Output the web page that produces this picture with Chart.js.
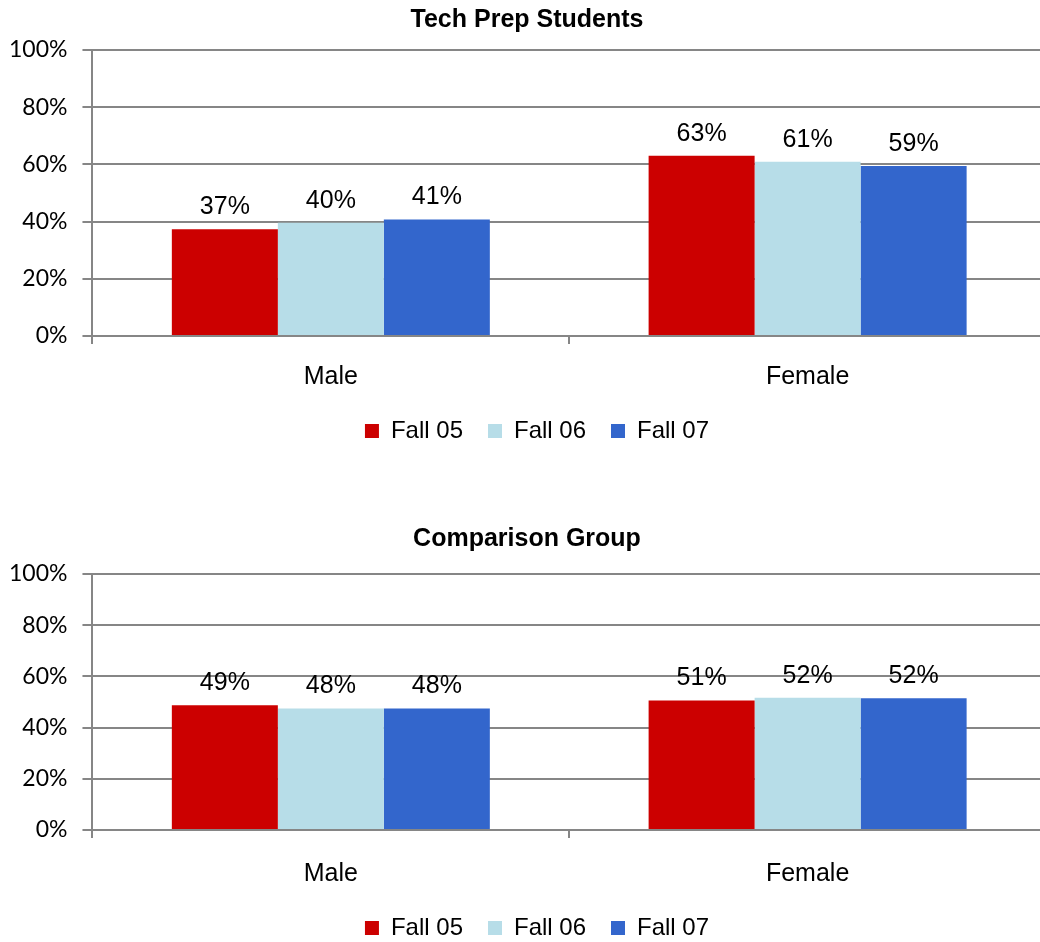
<!DOCTYPE html>
<html>
<head>
<meta charset="utf-8">
<script src="https://cdn.jsdelivr.net/npm/chart.js@4.4.1/dist/chart.umd.min.js"></script>
<style>
  html, body { margin: 0; padding: 0; background: #fff; overflow: hidden; }
  #topChart { position: absolute; left: 0; top: 0; }
  #bottomChart { position: absolute; left: 0; top: 519px; }
</style>
</head>
<body>
<canvas id="topChart" width="1046" height="453"></canvas>
<canvas id="bottomChart" width="1046" height="431"></canvas>
<script>
// Categories, series and axis ticks
const categories = ['Male', 'Female'];
const seriesNames = ['Fall 05', 'Fall 06', 'Fall 07'];
const seriesColors = ['#CC0000', '#B7DDE8', '#3366CC'];
const yTicks = [0, 20, 40, 60, 80, 100];

// Tech Prep Students (percent)
const techFall05 = [37.3, 63.0];
const techFall06 = [39.6, 60.9];
const techFall07 = [40.7, 59.4];

// Comparison Group (percent)
const compFall05 = [48.7, 50.6];
const compFall06 = [47.5, 51.7];
const compFall07 = [47.5, 51.5];

Chart.defaults.color = '#000';
Chart.defaults.font.family = '"Liberation Sans", Arial, sans-serif';
Chart.defaults.animation = false;

const gridGray = '#868686';

// Draw the value above each bar
const valueLabels = {
    id: 'valueLabels',
    afterDatasetsDraw(chart) {
        const ctx = chart.ctx;
        ctx.save();
        ctx.font = '25px "Liberation Sans", Arial, sans-serif';
        ctx.fillStyle = '#000';
        ctx.textAlign = 'center';
        ctx.textBaseline = 'middle';
        chart.data.datasets.forEach((ds, i) => {
            chart.getDatasetMeta(i).data.forEach((bar, j) => {
                ctx.fillText(Math.round(ds.data[j]) + '%', bar.x, bar.y - 22);
            });
        });
        ctx.restore();
    }
};

// Nudge the legend a little to the right, like the original
const legendNudge = {
    id: 'legendNudge',
    afterLayout(chart) {
        chart.legend.left += 10;
        chart.legend.right += 10;
    }
};

function makeChart(id, title, series, titleBottom, xPad, xTrim) {
    return new Chart(document.getElementById(id), {
        type: 'bar',
        data: {
            labels: categories,
            datasets: series.map((values, i) => ({
                label: seriesNames[i],
                data: values,
                backgroundColor: seriesColors[i],
                borderWidth: 0,
                categoryPercentage: 0.667,
                barPercentage: 1.0
            }))
        },
        options: {
            responsive: false,
            layout: {
                padding: { left: 8, right: 0, top: 0, bottom: 0 }
            },
            plugins: {
                title: {
                    display: true,
                    text: title,
                    font: { size: 25, weight: 'bold' },
                    padding: { top: 5, bottom: titleBottom }
                },
                legend: {
                    position: 'bottom',
                    labels: {
                        boxWidth: 14,
                        boxHeight: 14,
                        padding: 25,
                        font: { size: 24 }
                    }
                },
                tooltip: { enabled: false }
            },
            scales: {
                x: {
                    grid: {
                        display: true,
                        drawOnChartArea: false,
                        drawTicks: true,
                        tickLength: 8,
                        color: gridGray,
                        lineWidth: 2
                    },
                    border: { display: true, color: gridGray, width: 2 },
                    ticks: {
                        padding: xPad,
                        font: { size: 25 }
                    },
                    afterFit: (scale) => { scale.height -= xTrim; }
                },
                y: {
                    min: 0,
                    max: 100,
                    afterBuildTicks: (scale) => {
                        scale.ticks = yTicks.map(v => ({ value: v }));
                    },
                    afterFit: (scale) => { scale.width -= 14; },
                    grid: {
                        color: gridGray,
                        lineWidth: 2,
                        tickLength: 10
                    },
                    border: { display: true, color: gridGray, width: 2 },
                    ticks: {
                        padding: 15,
                        font: { family: 'Lato, "Liberation Sans", sans-serif', size: 23 },
                        callback: (value) => value + '%'
                    }
                }
            }
        },
        plugins: [valueLabels, legendNudge]
    });
}

makeChart('topChart', 'Tech Prep Students', [techFall05, techFall06, techFall07], 15, 18, 16);
makeChart('bottomChart', 'Comparison Group', [compFall05, compFall06, compFall07], 20, 21, 19);
</script>
</body>
</html>
